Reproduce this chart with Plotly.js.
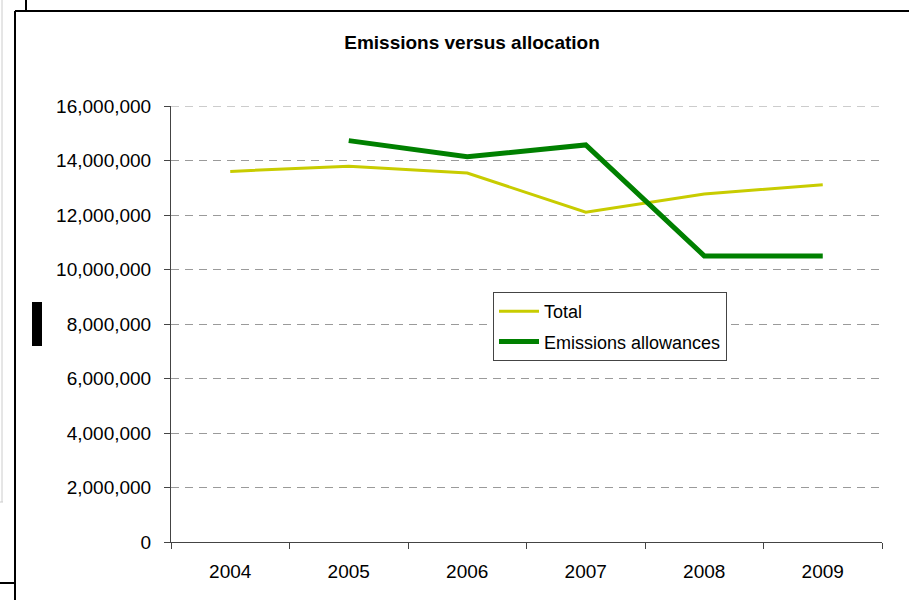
<!DOCTYPE html>
<html>
<head>
<meta charset="utf-8">
<script src="https://cdn.plot.ly/plotly-3.0.1.min.js"></script>
<style>html,body{margin:0;padding:0;background:#fff;}#chart{width:909px;height:600px;}</style>
</head>
<body>
<div id="chart"></div>
<script>
const years = ["2004", "2005", "2006", "2007", "2008", "2009"];
const totalValues = [13600000, 13790000, 13540000, 12100000, 12770000, 13110000];
const allowanceValues = [null, 14730000, 14140000, 14570000, 10500000, 10500000];
const yTickValues = [0, 2000000, 4000000, 6000000, 8000000, 10000000, 12000000, 14000000, 16000000];
const yTickLabels = ["0", "2,000,000", "4,000,000", "6,000,000", "8,000,000", "10,000,000", "12,000,000", "14,000,000", "16,000,000"];

const W = 909, H = 600;
const L = 171, R = 882, T = 106, B = 542;
const px = x => (x - L) / (R - L);
const py = y => (B - y) / (B - T);

const font = "Liberation Sans, Arial, sans-serif";

const traces = [
  {x: years, y: totalValues, name: "Total", type: "scatter", mode: "lines",
   line: {color: "#C8CC00", width: 3}, legendgroup: "a", hoverinfo: "skip"},
  {x: years, y: allowanceValues, name: "Emissions allowances", type: "scatter", mode: "lines",
   line: {color: "#008000", width: 5}, legendgroup: "b", hoverinfo: "skip", connectgaps: false}
];

function line(x0, y0, x1, y1, color, width) {
  return {type: "line", xref: "paper", yref: "paper", x0: px(x0), y0: py(y0), x1: px(x1), y1: py(y1),
          line: {color: color, width: width}, layer: "above"};
}

const shapes = [
  {type: "line", xref: "paper", yref: "y", x0: 0, x1: 1, y0: yTickValues[yTickValues.length - 1], y1: yTickValues[yTickValues.length - 1],
   line: {color: "#9a9a9a", width: 1, dash: "8px,6px"}, layer: "below"},
  line(26, 0, 26, 11, "#000", 2),
  line(15, 11, 909, 11, "#000", 2),
  line(15, 11, 15, 600, "#000", 2),
  line(0, 583, 15, 583, "#000", 2),
  line(2, 0, 2, 502, "#cccccc", 1),
  line(0, 502, 3, 502, "#cccccc", 1),
  {type: "rect", xref: "paper", yref: "paper", x0: px(32), x1: px(42), y0: py(302), y1: py(346),
   fillcolor: "#000", line: {width: 0}}
];

const layout = {
  width: W, height: H,
  margin: {l: L, r: W - R, t: T, b: H - B, pad: 0},
  paper_bgcolor: "#fff", plot_bgcolor: "#fff",
  font: {family: font, color: "#000"},
  title: {text: "<b>Emissions versus allocation</b>", font: {family: font, size: 19, color: "#000"},
          x: 472 / W, xref: "container", xanchor: "center", y: 1 - 42 / H, yref: "container", yanchor: "middle"},
  showlegend: true,
  legend: {x: px(493), y: py(292), xanchor: "left", yanchor: "top", bgcolor: "#fff",
           bordercolor: "#444", borderwidth: 1, font: {family: font, size: 18, color: "#000"},
           traceorder: "grouped", tracegroupgap: 4, itemwidth: 40},
  xaxis: {type: "category", range: [-0.5, 5.5], showgrid: false, zeroline: false,
          showline: true, linecolor: "#444", linewidth: 1,
          ticks: "outside", tickson: "boundaries", ticklen: 6, tickcolor: "#444", tickwidth: 1,
          tickfont: {family: font, size: 19, color: "#000"}, ticklabelstandoff: 12, fixedrange: true},
  yaxis: {range: [0, 16000000], tickvals: yTickValues, ticktext: yTickLabels,
          showgrid: true, gridcolor: "#9a9a9a", gridwidth: 1, griddash: "8px,6px", zeroline: false,
          showline: true, linecolor: "#444", linewidth: 1,
          ticks: "outside", ticklen: 6, tickcolor: "#444", tickwidth: 1,
          tickfont: {family: font, size: 19, color: "#000"}, ticklabelstandoff: 9, fixedrange: true},
  shapes: shapes,
  hovermode: false
};

Plotly.newPlot("chart", traces, layout, {displayModeBar: false, staticPlot: true});
</script>
</body>
</html>
